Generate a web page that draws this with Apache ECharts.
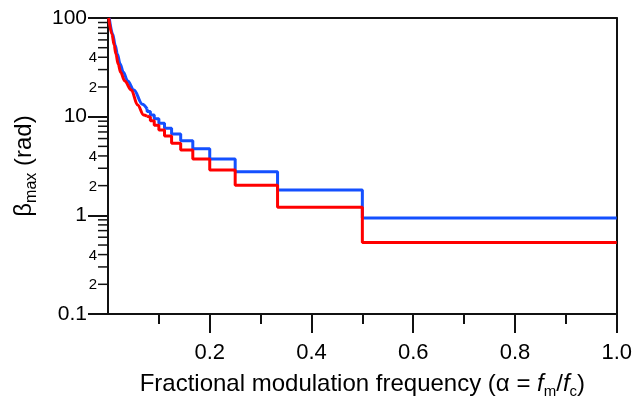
<!DOCTYPE html>
<html><head><meta charset="utf-8">
<script src="https://cdn.jsdelivr.net/npm/echarts@6/dist/echarts.min.js"></script>
<style>html,body{margin:0;padding:0;background:#fff}#c{width:635px;height:405px}</style>
</head><body><div id="c"></div>
<script>
// alpha boundaries 1/n (n = 0..12 -> 1, 1/2, ... 1/13)
const stepBounds = [1.0, 0.5, 0.3333, 0.25, 0.2, 0.1667, 0.1429, 0.125, 0.1111, 0.1, 0.0909, 0.0833, 0.0769];
// level on each step [1/(n+1), 1/n], n = 1..12
const blueStepLevels = [0.94, 1.81, 2.77, 3.72, 4.73, 5.71, 6.67, 7.62, 8.56, 9.5, 10.4, 11.3];
const redStepLevels  = [0.53, 1.21, 2.02, 2.88, 3.72, 4.59, 5.37, 6.37, 7.32, 8.2, 9.1, 9.9];
// low-alpha (fine-step) part
const blueLowAlpha  = [0.0024, 0.0092, 0.0141, 0.0184, 0.0239, 0.0302, 0.0387, 0.051, 0.0675, 0.0769];
const blueLowValues = [100, 68.7, 53.2, 43.2, 34.2, 28.2, 23.0, 18.6, 13.4, 12.0];
const redLowAlpha   = [0.0014, 0.0077, 0.0122, 0.0155, 0.020, 0.0249, 0.0328, 0.0459, 0.0583, 0.070, 0.0769];
const redLowValues  = [100, 68.7, 53.2, 43.2, 34.2, 28.2, 23.0, 18.6, 13.1, 10.4, 10.1];
// axis ticks
const xTickValues = [0.2, 0.4, 0.6, 0.8, 1.0];
const yDecades = [0.1, 1, 10];
const yMinorMultipliers = [2, 3, 4, 5, 6, 7, 8, 9];
const yMinorLabelled = [2, 4];

const FONT = '"Liberation Sans", Arial, sans-serif';
const AX = '#111';
const BLUE = '#1450ff', RED = '#ff0000';

function lowCurve(lowA, lowV) { return lowA.map((a, i) => [a, lowV[i]]); }
function stepCurve(lowA, lowV, levels) {
  const d = [[lowA[lowA.length - 1], lowV[lowV.length - 1]]];
  for (let n = levels.length; n >= 1; n--) {
    d.push([stepBounds[n], levels[n - 1]]);
    d.push([stepBounds[n - 1], levels[n - 1]]);
  }
  return d;
}
const minorData = [], minorLabels = [];
yDecades.forEach(dec => yMinorMultipliers.forEach(m => {
  minorData.push([0, +(dec * m).toPrecision(3)]);
  minorLabels.push(yMinorLabelled.indexOf(m) >= 0 ? String(m) : '');
}));

function lineSeries(name, data, color, smooth) {
  return {type: 'line', name: name, data: data, showSymbol: false, symbol: 'none', clip: true,
    smooth: smooth, smoothMonotone: smooth ? 'x' : undefined,
    lineStyle: {color: color, width: 3}, itemStyle: {color: color}};
}

const chart = echarts.init(document.getElementById('c'), null, {renderer: 'canvas'});
chart.setOption({
  animation: false,
  backgroundColor: '#fff',
  grid: {left: 107, right: 18, top: 18, bottom: 91, containLabel: false},
  xAxis: [{
    type: 'value', min: 0, max: 1, interval: 0.2, position: 'bottom',
    axisLine: {show: true, onZero: false, lineStyle: {color: AX, width: 2}},
    axisTick: {show: true, length: 19, customValues: xTickValues, lineStyle: {color: AX, width: 2}},
    minorTick: {show: true, splitNumber: 2, length: 10, lineStyle: {color: AX, width: 2}},
    axisLabel: {customValues: xTickValues, formatter: v => v.toFixed(1), fontSize: 22, fontFamily: FONT, color: '#000', margin: 28},
    splitLine: {show: false},
    name: 'Fractional modulation frequency (α = {i|f}{s|m}/{i|f}{s|c})',
    nameLocation: 'middle', nameGap: 54,
    nameTextStyle: {fontSize: 24, fontFamily: FONT, color: '#000', lineHeight: 30,
      rich: {i: {fontSize: 24, fontStyle: 'italic', fontFamily: FONT, color: '#000', lineHeight: 30},
             s: {fontSize: 15, fontFamily: FONT, color: '#000', lineHeight: 15, verticalAlign: 'bottom'}}}
  }, {
    type: 'value', min: 0, max: 1, position: 'top',
    axisLine: {show: true, onZero: false, lineStyle: {color: AX, width: 2}},
    axisTick: {show: false}, axisLabel: {show: false}, splitLine: {show: false}
  }],
  yAxis: [{
    type: 'log', logBase: 10, min: 0.1, max: 100, position: 'left',
    axisLine: {show: true, onZero: false, lineStyle: {color: AX, width: 2}},
    axisTick: {show: true, length: 20, lineStyle: {color: AX, width: 2}},
    axisLabel: {formatter: v => (v < 1 ? v.toFixed(1) : String(Math.round(v))), fontSize: 21, fontFamily: FONT, color: '#000', margin: 21},
    splitLine: {show: false},
    name: '{b|β}{s|max}{b| (rad)}',
    nameLocation: 'middle', nameGap: 68, nameRotate: 90,
    nameTextStyle: {fontSize: 24, fontFamily: FONT, color: '#000', lineHeight: 32,
      rich: {b: {fontSize: 24, fontFamily: FONT, color: '#000', lineHeight: 32},
             s: {fontSize: 16, fontFamily: FONT, color: '#000', lineHeight: 16, verticalAlign: 'bottom'}}}
  }, {
    type: 'log', logBase: 10, min: 0.1, max: 100, position: 'right',
    axisLine: {show: true, onZero: false, lineStyle: {color: AX, width: 2}},
    axisTick: {show: false}, axisLabel: {show: false}, splitLine: {show: false}
  }],
  series: [
    lineSeries('blue-low', lowCurve(blueLowAlpha, blueLowValues), BLUE, 0.35),
    lineSeries('blue', stepCurve(blueLowAlpha, blueLowValues, blueStepLevels), BLUE, false),
    lineSeries('red-low', lowCurve(redLowAlpha, redLowValues), RED, 0.35),
    lineSeries('red', stepCurve(redLowAlpha, redLowValues, redStepLevels), RED, false),
    {
      type: 'custom', name: 'minorTicks', data: minorData, clip: false, silent: true,
      renderItem: function (params, api) {
        const p = api.coord([0, api.value(1)]);
        const children = [{type: 'line', shape: {x1: p[0] - 10, y1: p[1], x2: p[0], y2: p[1]},
          style: {stroke: AX, lineWidth: 1.5}}];
        const lab = minorLabels[params.dataIndex];
        if (lab) children.push({type: 'text', style: {text: lab, x: p[0] - 11, y: p[1] + 1, align: 'right',
          verticalAlign: 'middle', fontSize: 15, fontFamily: FONT, fill: '#000'}});
        return {type: 'group', children: children};
      }
    }
  ]
});
</script></body></html>
